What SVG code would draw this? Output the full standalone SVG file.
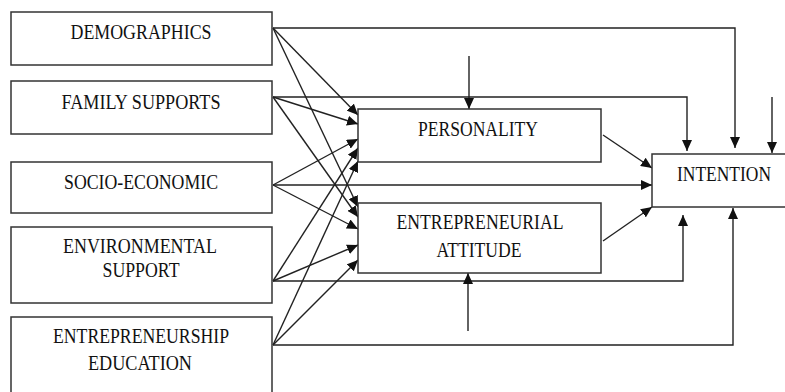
<svg xmlns="http://www.w3.org/2000/svg" width="785" height="392" viewBox="0 0 785 392">
<defs>
<marker id="ah" markerUnits="userSpaceOnUse" markerWidth="11" markerHeight="10" refX="11" refY="5" orient="auto">
<path d="M0,0 L11,5 L0,10 z" fill="#111"/>
</marker>
<style>
.box{fill:#fff;stroke:#333;stroke-width:1.5}
.c{fill:none;stroke:#222;stroke-width:1.4;marker-end:url(#ah)}
.p{fill:none;stroke:#222;stroke-width:1.4}
text{font-family:"Liberation Serif","Times New Roman",serif;font-size:21px;fill:#111;text-anchor:middle}
</style>
</defs>
<rect width="785" height="392" fill="#fff"/>
<g id="connectors">
<polyline class="c" points="273,28 735,28 735,148"/>
<polyline class="c" points="273,97 687,97 687,151"/>
<line class="c" x1="469" y1="56" x2="469" y2="109"/>
<line class="c" x1="772" y1="97" x2="772" y2="153"/>
<line class="c" x1="273" y1="28" x2="358" y2="115"/>
<line class="c" x1="273" y1="28" x2="358" y2="207"/>
<line class="c" x1="273" y1="97" x2="358" y2="124"/>
<line class="c" x1="273" y1="97" x2="358" y2="217"/>
<line class="c" x1="273" y1="185" x2="358" y2="139"/>
<line class="c" x1="273" y1="185" x2="358" y2="229"/>
<line class="c" x1="273" y1="185" x2="652" y2="185"/>
<line class="c" x1="273" y1="281" x2="358" y2="148"/>
<line class="c" x1="273" y1="281" x2="358" y2="245"/>
<polyline class="c" points="273,281 683,281 683,215"/>
<line class="c" x1="273" y1="345" x2="358" y2="161"/>
<line class="c" x1="273" y1="345" x2="358" y2="260"/>
<polyline class="c" points="273,345 733,345 733,208"/>
<line class="c" x1="468" y1="331" x2="468" y2="273"/>
<line class="c" x1="603" y1="135" x2="652" y2="168"/>
<line class="c" x1="603" y1="241" x2="652" y2="207"/>
</g>
<g id="demographics">
<rect class="box" x="11" y="12" width="261" height="53"/>
<text x="141" y="39" textLength="141" lengthAdjust="spacingAndGlyphs">DEMOGRAPHICS</text>
</g>
<g id="family-supports">
<rect class="box" x="11" y="81" width="261" height="53"/>
<text x="141" y="109" textLength="159" lengthAdjust="spacingAndGlyphs">FAMILY SUPPORTS</text>
</g>
<g id="socio-economic">
<rect class="box" x="11" y="162" width="261" height="51"/>
<text x="141" y="189" textLength="154" lengthAdjust="spacingAndGlyphs">SOCIO-ECONOMIC</text>
</g>
<g id="environmental-support">
<rect class="box" x="11" y="227" width="261" height="76"/>
<text x="140" y="253" textLength="154" lengthAdjust="spacingAndGlyphs">ENVIRONMENTAL</text>
<text x="141" y="277" textLength="77" lengthAdjust="spacingAndGlyphs">SUPPORT</text>
</g>
<g id="entrepreneurship-education">
<rect class="box" x="11" y="317" width="261" height="85"/>
<text x="141" y="343" textLength="176" lengthAdjust="spacingAndGlyphs">ENTREPRENEURSHIP</text>
<text x="140" y="370" textLength="104" lengthAdjust="spacingAndGlyphs">EDUCATION</text>
</g>
<g id="personality">
<rect class="box" x="358" y="109" width="243" height="53"/>
<text x="478" y="136" textLength="120" lengthAdjust="spacingAndGlyphs">PERSONALITY</text>
</g>
<g id="entrepreneurial-attitude">
<rect class="box" x="358" y="203" width="243" height="70"/>
<text x="480" y="229" textLength="167" lengthAdjust="spacingAndGlyphs">ENTREPRENEURIAL</text>
<text x="479" y="257" textLength="85" lengthAdjust="spacingAndGlyphs">ATTITUDE</text>
</g>
<g id="intention">
<rect class="box" x="652" y="154" width="145" height="53"/>
<text x="724" y="181" textLength="94" lengthAdjust="spacingAndGlyphs">INTENTION</text>
</g>
</svg>
